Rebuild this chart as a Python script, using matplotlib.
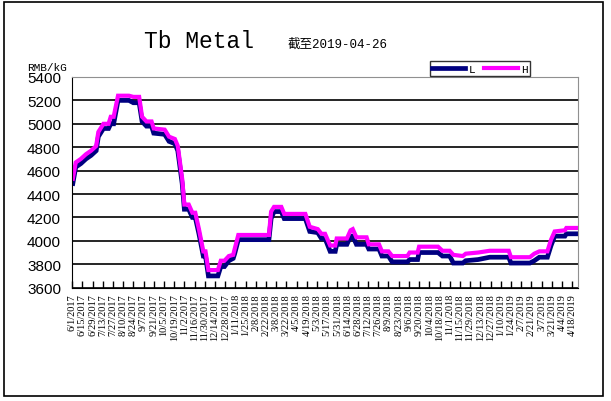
import datetime as dt
import matplotlib
matplotlib.use('Agg')
import matplotlib.pyplot as plt
from matplotlib.patches import Rectangle

# price readings (RMB/kG), step change points
dates = ['2017-06-02', '2017-06-06', '2017-06-13', '2017-06-20', '2017-06-27', '2017-07-04',
         '2017-07-07', '2017-07-14', '2017-07-21', '2017-07-24', '2017-07-28', '2017-08-03',
         '2017-08-18', '2017-08-24', '2017-09-01', '2017-09-05', '2017-09-11', '2017-09-18',
         '2017-09-21', '2017-10-06', '2017-10-12', '2017-10-20', '2017-10-24', '2017-10-30',
         '2017-11-02', '2017-11-08', '2017-11-13', '2017-11-17', '2017-11-22', '2017-11-28',
         '2017-12-01', '2017-12-05', '2017-12-18', '2017-12-22', '2017-12-27', '2018-01-02',
         '2018-01-08', '2018-01-10', '2018-01-15', '2018-02-26', '2018-03-01', '2018-03-05',
         '2018-03-15', '2018-03-19', '2018-04-17', '2018-04-23', '2018-05-04', '2018-05-09',
         '2018-05-14', '2018-05-21', '2018-05-28', '2018-05-30', '2018-06-13', '2018-06-18',
         '2018-06-21', '2018-06-26', '2018-07-10', '2018-07-13', '2018-07-27', '2018-07-31',
         '2018-08-09', '2018-08-14', '2018-09-04', '2018-09-07', '2018-09-18', '2018-09-20',
         '2018-10-16', '2018-10-22', '2018-11-01', '2018-11-06', '2018-11-19', '2018-11-23',
         '2018-12-10', '2018-12-26', '2019-01-21', '2019-01-24', '2019-02-19', '2019-02-25',
         '2019-03-04', '2019-03-15', '2019-03-20', '2019-03-25', '2019-04-08', '2019-04-10',
         '2019-04-26']

low = [4490, 4630, 4660, 4700, 4730, 4770,
       4890, 4960, 4960, 5000, 5000, 5200,
       5200, 5180, 5180, 5020, 4980, 4980,
       4920, 4910, 4850, 4830, 4770, 4490,
       4270, 4270, 4200, 4200, 4060, 3870,
       3870, 3700, 3700, 3780, 3780, 3830,
       3850, 3890, 4010, 4010, 4190, 4250,
       4250, 4190, 4190, 4080, 4070, 4020,
       4020, 3910, 3910, 3970, 3970, 4040,
       4040, 3970, 3970, 3930, 3930, 3870,
       3870, 3820, 3820, 3840, 3840, 3900,
       3900, 3870, 3870, 3810, 3810, 3830,
       3840, 3860, 3860, 3810, 3810, 3830,
       3860, 3860, 3960, 4040, 4040, 4060,
       4060]

high = [4530, 4670, 4700, 4740, 4770, 4810,
        4930, 5000, 5000, 5060, 5060, 5240,
        5240, 5230, 5230, 5060, 5020, 5020,
        4960, 4950, 4890, 4870, 4810, 4530,
        4310, 4310, 4240, 4240, 4100, 3910,
        3910, 3750, 3750, 3830, 3830, 3870,
        3880, 3930, 4050, 4050, 4250, 4290,
        4290, 4230, 4230, 4120, 4100, 4060,
        4060, 3960, 3960, 4020, 4020, 4090,
        4100, 4030, 4030, 3970, 3970, 3910,
        3910, 3870, 3870, 3900, 3900, 3950,
        3950, 3915, 3915, 3880, 3870, 3890,
        3900, 3915, 3915, 3860, 3860, 3890,
        3910, 3910, 4010, 4080, 4090, 4110,
        4110]

x = [dt.datetime.strptime(d, '%Y-%m-%d') for d in dates]

fig = plt.figure(figsize=(6.11, 4.02), dpi=100)
ax = fig.add_axes([0.118, 0.282, 0.828, 0.524])

ax.plot(x, low, color='#000080', lw=3.4, label='L', solid_joinstyle='miter')
ax.plot(x, high, color='#ff00ff', lw=3.0, label='H', solid_joinstyle='miter')

ax.set_ylim(3600, 5400)
ax.set_yticks(range(3600, 5401, 200))
ax.set_xlim(dt.datetime(2017, 6, 1), dt.datetime(2019, 4, 26))

ticks = [dt.datetime(2017, 6, 1) + dt.timedelta(days=14 * i) for i in range(50)]
ax.set_xticks(ticks)
ax.set_xticklabels([f'{d.month}/{d.day}/{d.year}' for d in ticks], rotation=90,
                   fontsize=7.5, family='Liberation Serif')
ax.tick_params(axis='x', direction='in', length=5, width=1, pad=4)
ax.tick_params(axis='y', length=0, pad=8)
for lab in ax.get_yticklabels():
    lab.set_family('Liberation Sans')
    lab.set_fontsize(11)

ax.grid(axis='y', color='black', lw=1.2)
ax.set_axisbelow(True)
ax.spines['left'].set_color('black')
ax.spines['bottom'].set_color('black')
ax.spines['top'].set_color('#909090')
ax.spines['right'].set_color('#909090')

leg = ax.legend(loc='lower left', bbox_to_anchor=(0.705, 1.0), ncol=2, frameon=True,
                fancybox=False, prop={'family': 'Liberation Mono', 'size': 8},
                handlelength=3.0, handletextpad=0.3, columnspacing=0.8,
                borderpad=0.2, borderaxespad=0.1)
leg.get_frame().set_edgecolor('black')
leg.get_frame().set_linewidth(1)

fig.text(0.326, 0.898, 'Tb Metal', family='Liberation Mono', fontsize=16.5,
         ha='center', va='center')
fig.text(0.471, 0.89, '截至2019-04-26', family=['Liberation Mono', 'Noto Sans CJK SC'],
         fontsize=9, ha='left', va='center')
fig.text(0.044, 0.823, 'RMB/kG', family='Liberation Mono', fontsize=8,
         ha='left', va='baseline')

fig.patches.append(Rectangle((0.006, 0.012), 0.981, 0.981, transform=fig.transFigure,
                             fill=False, edgecolor='black', lw=1.2))

fig.savefig('out.png', dpi=100)
